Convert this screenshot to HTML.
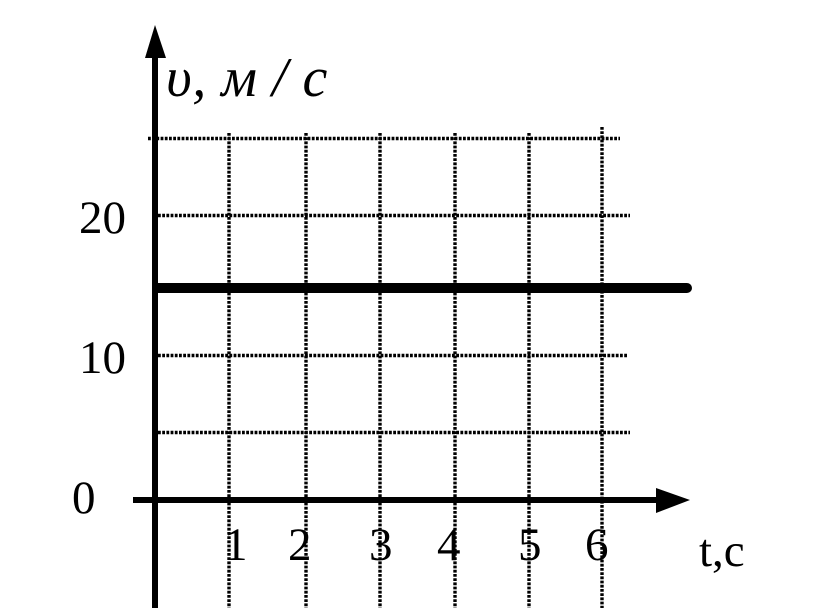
<!DOCTYPE html>
<html><head><meta charset="utf-8"><style>html,body{margin:0;padding:0;background:#fff}svg{display:block}</style></head>
<body>
<svg width="823" height="608" viewBox="0 0 823 608" xmlns="http://www.w3.org/2000/svg">
<g stroke="#000" stroke-width="3.4" stroke-dasharray="2.8 1.4" fill="none">
<line x1="148" y1="138.5" x2="620" y2="138.5"/>
<line x1="158" y1="215.5" x2="630" y2="215.5"/>
<line x1="158" y1="355.5" x2="628" y2="355.5"/>
<line x1="158" y1="432.5" x2="630" y2="432.5"/>
<line x1="229" y1="133" x2="229" y2="608"/>
<line x1="306" y1="133" x2="306" y2="608"/>
<line x1="380" y1="133" x2="380" y2="608"/>
<line x1="455" y1="133" x2="455" y2="608"/>
<line x1="529" y1="133" x2="529" y2="608"/>
<line x1="602" y1="127" x2="602" y2="608"/>
</g>
<line x1="155" y1="50" x2="155" y2="608" stroke="#000" stroke-width="6"/>
<polygon points="155,25 145,58 166,58" fill="#000"/>
<line x1="133" y1="500" x2="665" y2="500" stroke="#000" stroke-width="6"/>
<polygon points="690,500 656,488 656,513" fill="#000"/>
<line x1="158" y1="288" x2="687" y2="288" stroke="#000" stroke-width="10" stroke-linecap="round"/>
<g font-family="Liberation Serif, serif" font-size="47" fill="#000">
<text x="79" y="233">20</text>
<text x="79" y="373">10</text>
<text x="72" y="513">0</text>
<text x="224" y="560">1</text>
<text x="288" y="560">2</text>
<text x="369" y="560">3</text>
<text x="437" y="560">4</text>
<text x="518" y="560">5</text>
<text x="585" y="560">6</text>
<text x="699" y="566">t,c</text>
<text x="166" y="96" font-style="italic" font-size="56" letter-spacing="0.5">υ, м / с</text>
</g>
</svg>
</body></html>
